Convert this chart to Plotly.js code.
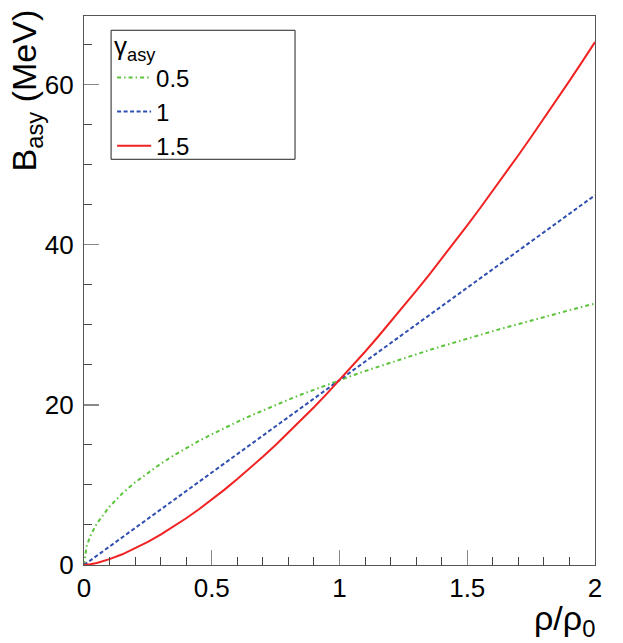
<!DOCTYPE html>
<html>
<head>
<meta charset="utf-8">
<script src="https://cdn.plot.ly/plotly-3.0.1.min.js"></script>
<style>html,body{margin:0;padding:0;background:#fff;}#chart{width:623px;height:643px;}</style>
</head>
<body>
<div id="chart"></div>
<script>
// density ratio rho/rho0
const rhoRatio = [0, 0.01, 0.025, 0.05, 0.1, 0.15, 0.2, 0.25, 0.3, 0.35, 0.4, 0.45, 0.5, 0.55, 0.6, 0.65, 0.7, 0.75, 0.8, 0.85, 0.9, 0.95, 1.0,
  1.05, 1.1, 1.15, 1.2, 1.25, 1.3, 1.35, 1.4, 1.45, 1.5, 1.55, 1.6, 1.65, 1.7, 1.75, 1.8, 1.85, 1.9, 1.95, 2.0];
// B_asy (MeV)
const bGamma05 = [0, 2.31, 3.65, 5.17, 7.30, 8.95, 10.33, 11.55, 12.65, 13.67, 14.61, 15.50, 16.33, 17.13, 17.89, 18.62, 19.33, 20.00, 20.66, 21.30, 21.91, 22.52, 23.10,
  23.67, 24.23, 24.77, 25.30, 25.83, 26.34, 26.84, 27.33, 27.82, 28.29, 28.76, 29.22, 29.67, 30.12, 30.56, 30.99, 31.42, 31.84, 32.26, 32.67];
const bGamma10 = [0, 0.23, 0.58, 1.16, 2.31, 3.47, 4.62, 5.78, 6.93, 8.09, 9.24, 10.40, 11.55, 12.71, 13.86, 15.02, 16.17, 17.33, 18.48, 19.64, 20.79, 21.95, 23.10,
  24.26, 25.41, 26.57, 27.72, 28.88, 30.03, 31.19, 32.34, 33.50, 34.65, 35.81, 36.96, 38.12, 39.27, 40.43, 41.58, 42.74, 43.89, 45.05, 46.20];
const bGamma15 = [0, 0.02, 0.09, 0.26, 0.73, 1.34, 2.07, 2.89, 3.80, 4.78, 5.84, 6.97, 8.17, 9.42, 10.74, 12.10, 13.53, 15.00, 16.53, 18.10, 19.72, 21.39, 23.10,
  24.85, 26.65, 28.49, 30.36, 32.28, 34.24, 36.23, 38.26, 40.33, 42.44, 44.58, 46.75, 48.96, 51.20, 53.48, 55.78, 58.12, 60.50, 62.90, 65.34];
const seriesNames = ['0.5', '1', '1.5'];
const xTickVals = [0, 0.5, 1, 1.5, 2];
const xTickText = ['0', '0.5', '1', '1.5', '2'];
const yTickVals = [0, 20, 40, 60];

const FONT = 'Liberation Sans, Arial, Helvetica, sans-serif';
const traces = [
  {x: rhoRatio, y: bGamma05, name: seriesNames[0], mode: 'lines', line: {color: '#5cc33c', width: 2, dash: '4px,3px,1.5px,3px'}},
  {x: rhoRatio, y: bGamma10, name: seriesNames[1], mode: 'lines', line: {color: '#2f4fb0', width: 2, dash: '4px,2.5px'}},
  {x: rhoRatio, y: bGamma15, name: seriesNames[2], mode: 'lines', line: {color: '#f02222', width: 2}}
];
const axisCommon = {
  showgrid: false, zeroline: false, showline: true, mirror: true, linecolor: '#555', linewidth: 1.2,
  ticks: 'inside', ticklen: 15, tickcolor: '#888', tickwidth: 1.2,
  tickfont: {family: FONT, size: 26, color: '#000'}
};
const layout = {
  width: 623, height: 643,
  margin: {l: 84, r: 28, t: 16, b: 78},
  paper_bgcolor: '#fff', plot_bgcolor: '#fff',
  font: {family: FONT, color: '#000'},
  showlegend: true,
  xaxis: Object.assign({}, axisCommon, {
    range: [0, 2], tickmode: 'array', tickvals: xTickVals, ticktext: xTickText,
    minor: {dtick: 0.1, ticks: 'inside', ticklen: 8, tickcolor: '#444', tickwidth: 1}
  }),
  yaxis: Object.assign({}, axisCommon, {
    range: [0, 68.6], tickmode: 'array', tickvals: yTickVals,
    minor: {dtick: 5, ticks: 'inside', ticklen: 8, tickcolor: '#444', tickwidth: 1},
    ticklabelstandoff: 4
  }),
  legend: {
    x: 0.055, y: 0.99, xanchor: 'left', yanchor: 'top',
    bgcolor: 'rgba(0,0,0,0)', borderwidth: 0,
    font: {family: FONT, size: 24, color: '#000'},
    title: {text: 'γ<sub>asy</sub>', font: {family: FONT, size: 26, color: '#000'}},
    itemwidth: 34,
    tracegroupgap: 0
  },
  shapes: [
    {type: 'rect', xref: 'paper', yref: 'paper', x0: 0.053, x1: 0.413, y0: 0.739, y1: 0.974,
     line: {color: '#222', width: 1}, fillcolor: 'rgba(0,0,0,0)'}
  ],
  annotations: [
    {text: 'B<sub>asy</sub> (MeV)', xref: 'paper', yref: 'paper', x: -0.113, y: 1.016,
     xanchor: 'center', yanchor: 'top', textangle: -90, showarrow: false,
     font: {family: FONT, size: 34, color: '#000'}},
    {text: 'ρ/ρ<sub>0</sub>', xref: 'paper', yref: 'paper', x: 1.003, y: -0.058,
     xanchor: 'right', yanchor: 'top', showarrow: false,
     font: {family: FONT, size: 34, color: '#000'}}
  ]
};
Plotly.newPlot('chart', traces, layout, {displayModeBar: false, staticPlot: true});
</script>
</body>
</html>
